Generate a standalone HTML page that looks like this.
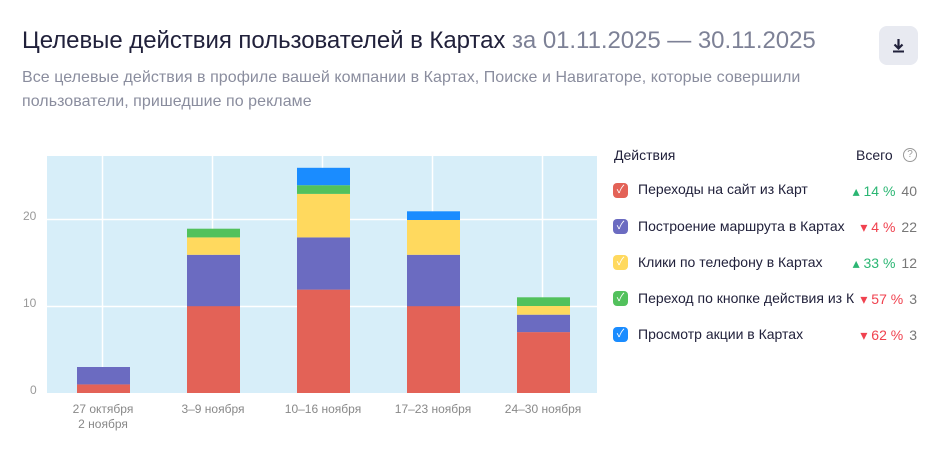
<!DOCTYPE html>
<html><head><meta charset="utf-8"><style>
body{margin:0;width:940px;height:460px;background:#fff;font-family:"Liberation Sans","Noto Sans CJK SC",sans-serif;position:relative;overflow:hidden}
.a{position:absolute;white-space:nowrap}
.t{left:22px;top:27px;font-size:24px;color:#21213b;letter-spacing:-0.05px}
.t span{color:#7d8196}
.s{left:22px;font-size:16px;color:#8a8d9e;letter-spacing:0.05px}
.btn{left:879px;top:26px;width:39px;height:39px;background:#e8eaf1;border-radius:8px}
.yl{font-size:12px;color:#999;left:30px}
.xl{font-size:12px;color:#888;text-align:center;width:110px;line-height:15px}
.leg{font-size:14px;color:#21213b}
.cb{position:absolute;left:613px;width:15px;height:15px;border-radius:4px;color:#fff;font-size:11px;line-height:15px;text-align:center}
.r{position:absolute;right:23px;font-size:14px;background:#fff;padding-left:6px;display:flex;gap:6px}
.r b{font-weight:normal;color:#777}
.up{color:#2bb673}.dn{color:#f0424f}
</style></head><body>
<div class="a t">Целевые действия пользователей в Картах <span>за 01.11.2025 — 30.11.2025</span></div>
<div class="a s" style="top:69px">Все целевые действия в профиле вашей компании в Картах, Поиске и Навигаторе, которые совершили</div>
<div class="a s" style="top:93px">пользователи, пришедшие по рекламе</div>
<div class="a btn"><svg width="39" height="39"><path d="M19.5 13v9M15.5 18.5l4 4 4-4" stroke="#21213b" stroke-width="2.2" fill="none"/><rect x="14" y="24.5" width="11" height="2" fill="#21213b"/></svg></div>

<svg class="a" style="left:0;top:0" width="600" height="400">
<rect x="47" y="156" width="550" height="237" fill="#d7eef9"/>
<g stroke="#fff" stroke-width="1.5">
<line x1="47" y1="219.5" x2="597" y2="219.5"/><line x1="47" y1="306.5" x2="597" y2="306.5"/>
<line x1="102.5" y1="156" x2="102.5" y2="393"/><line x1="212.5" y1="156" x2="212.5" y2="393"/><line x1="322.5" y1="156" x2="322.5" y2="393"/><line x1="432.5" y1="156" x2="432.5" y2="393"/><line x1="542.5" y1="156" x2="542.5" y2="393"/>
</g>
<rect x="77" y="384.3" width="53" height="8.7" fill="#e36257"/>
<rect x="77" y="367" width="53" height="17.4" fill="#6b6bc1"/>
<rect x="187" y="306" width="53" height="87" fill="#e36257"/>
<rect x="187" y="254.8" width="53" height="51.4" fill="#6b6bc1"/>
<rect x="187" y="237.4" width="53" height="17.4" fill="#ffd95e"/>
<rect x="187" y="228.7" width="53" height="8.7" fill="#52c15c"/>
<rect x="297" y="289.6" width="53" height="103.4" fill="#e36257"/>
<rect x="297" y="237.4" width="53" height="52.2" fill="#6b6bc1"/>
<rect x="297" y="193.9" width="53" height="43.5" fill="#ffd95e"/>
<rect x="297" y="185.2" width="53" height="8.7" fill="#52c15c"/>
<rect x="297" y="167.8" width="53" height="17.4" fill="#1a8cff"/>
<rect x="407" y="306" width="53" height="87" fill="#e36257"/>
<rect x="407" y="254.8" width="53" height="51.4" fill="#6b6bc1"/>
<rect x="407" y="220" width="53" height="34.8" fill="#ffd95e"/>
<rect x="407" y="211.3" width="53" height="8.7" fill="#1a8cff"/>
<rect x="517" y="332.1" width="53" height="60.9" fill="#e36257"/>
<rect x="517" y="314.7" width="53" height="17.4" fill="#6b6bc1"/>
<rect x="517" y="306" width="53" height="8.7" fill="#ffd95e"/>
<rect x="517" y="297.3" width="53" height="8.7" fill="#52c15c"/>
</svg>
<div class="a yl" style="top:383px">0</div>
<div class="a yl" style="top:296px;left:23px">10</div>
<div class="a yl" style="top:209px;left:23px">20</div>
<div class="a xl" style="left:48px;top:402px">27 октября<br>2 ноября</div>
<div class="a xl" style="left:158px;top:402px">3–9 ноября</div>
<div class="a xl" style="left:268px;top:402px">10–16 ноября</div>
<div class="a xl" style="left:378px;top:402px">17–23 ноября</div>
<div class="a xl" style="left:488px;top:402px">24–30 ноября</div>

<div class="a leg" style="left:614px;top:147px">Действия</div>
<div class="a leg" style="left:856px;top:147px">Всего</div>
<div class="a" style="left:903px;top:148px;width:12px;height:12px;border:1.3px solid #999;border-radius:50%;font-size:10px;color:#999;text-align:center;line-height:12px">?</div>

<div class="cb" style="top:183px;background:#e36257">✓</div>
<div class="a leg" style="left:638px;top:181px">Переходы на сайт из Карт</div>
<div class="r" style="top:183px"><span class="up">▴ 14 %</span><b>40</b></div>

<div class="cb" style="top:219px;background:#6b6bc1">✓</div>
<div class="a leg" style="left:638px;top:218px">Построение маршрута в Картах</div>
<div class="r" style="top:219px;padding-left:14px"><span class="dn">▾ 4 %</span><b>22</b></div>

<div class="cb" style="top:255px;background:#ffd95e">✓</div>
<div class="a leg" style="left:638px;top:254px">Клики по телефону в Картах</div>
<div class="r" style="top:255px"><span class="up">▴ 33 %</span><b>12</b></div>

<div class="cb" style="top:291px;background:#52c15c">✓</div>
<div class="a leg" style="left:638px;top:290px">Переход по кнопке действия из Карт</div>
<div class="r" style="top:291px"><span class="dn">▾ 57 %</span><b>3</b></div>

<div class="cb" style="top:327px;background:#1a8cff">✓</div>
<div class="a leg" style="left:638px;top:326px">Просмотр акции в Картах</div>
<div class="r" style="top:327px"><span class="dn">▾ 62 %</span><b>3</b></div>
</body></html>
